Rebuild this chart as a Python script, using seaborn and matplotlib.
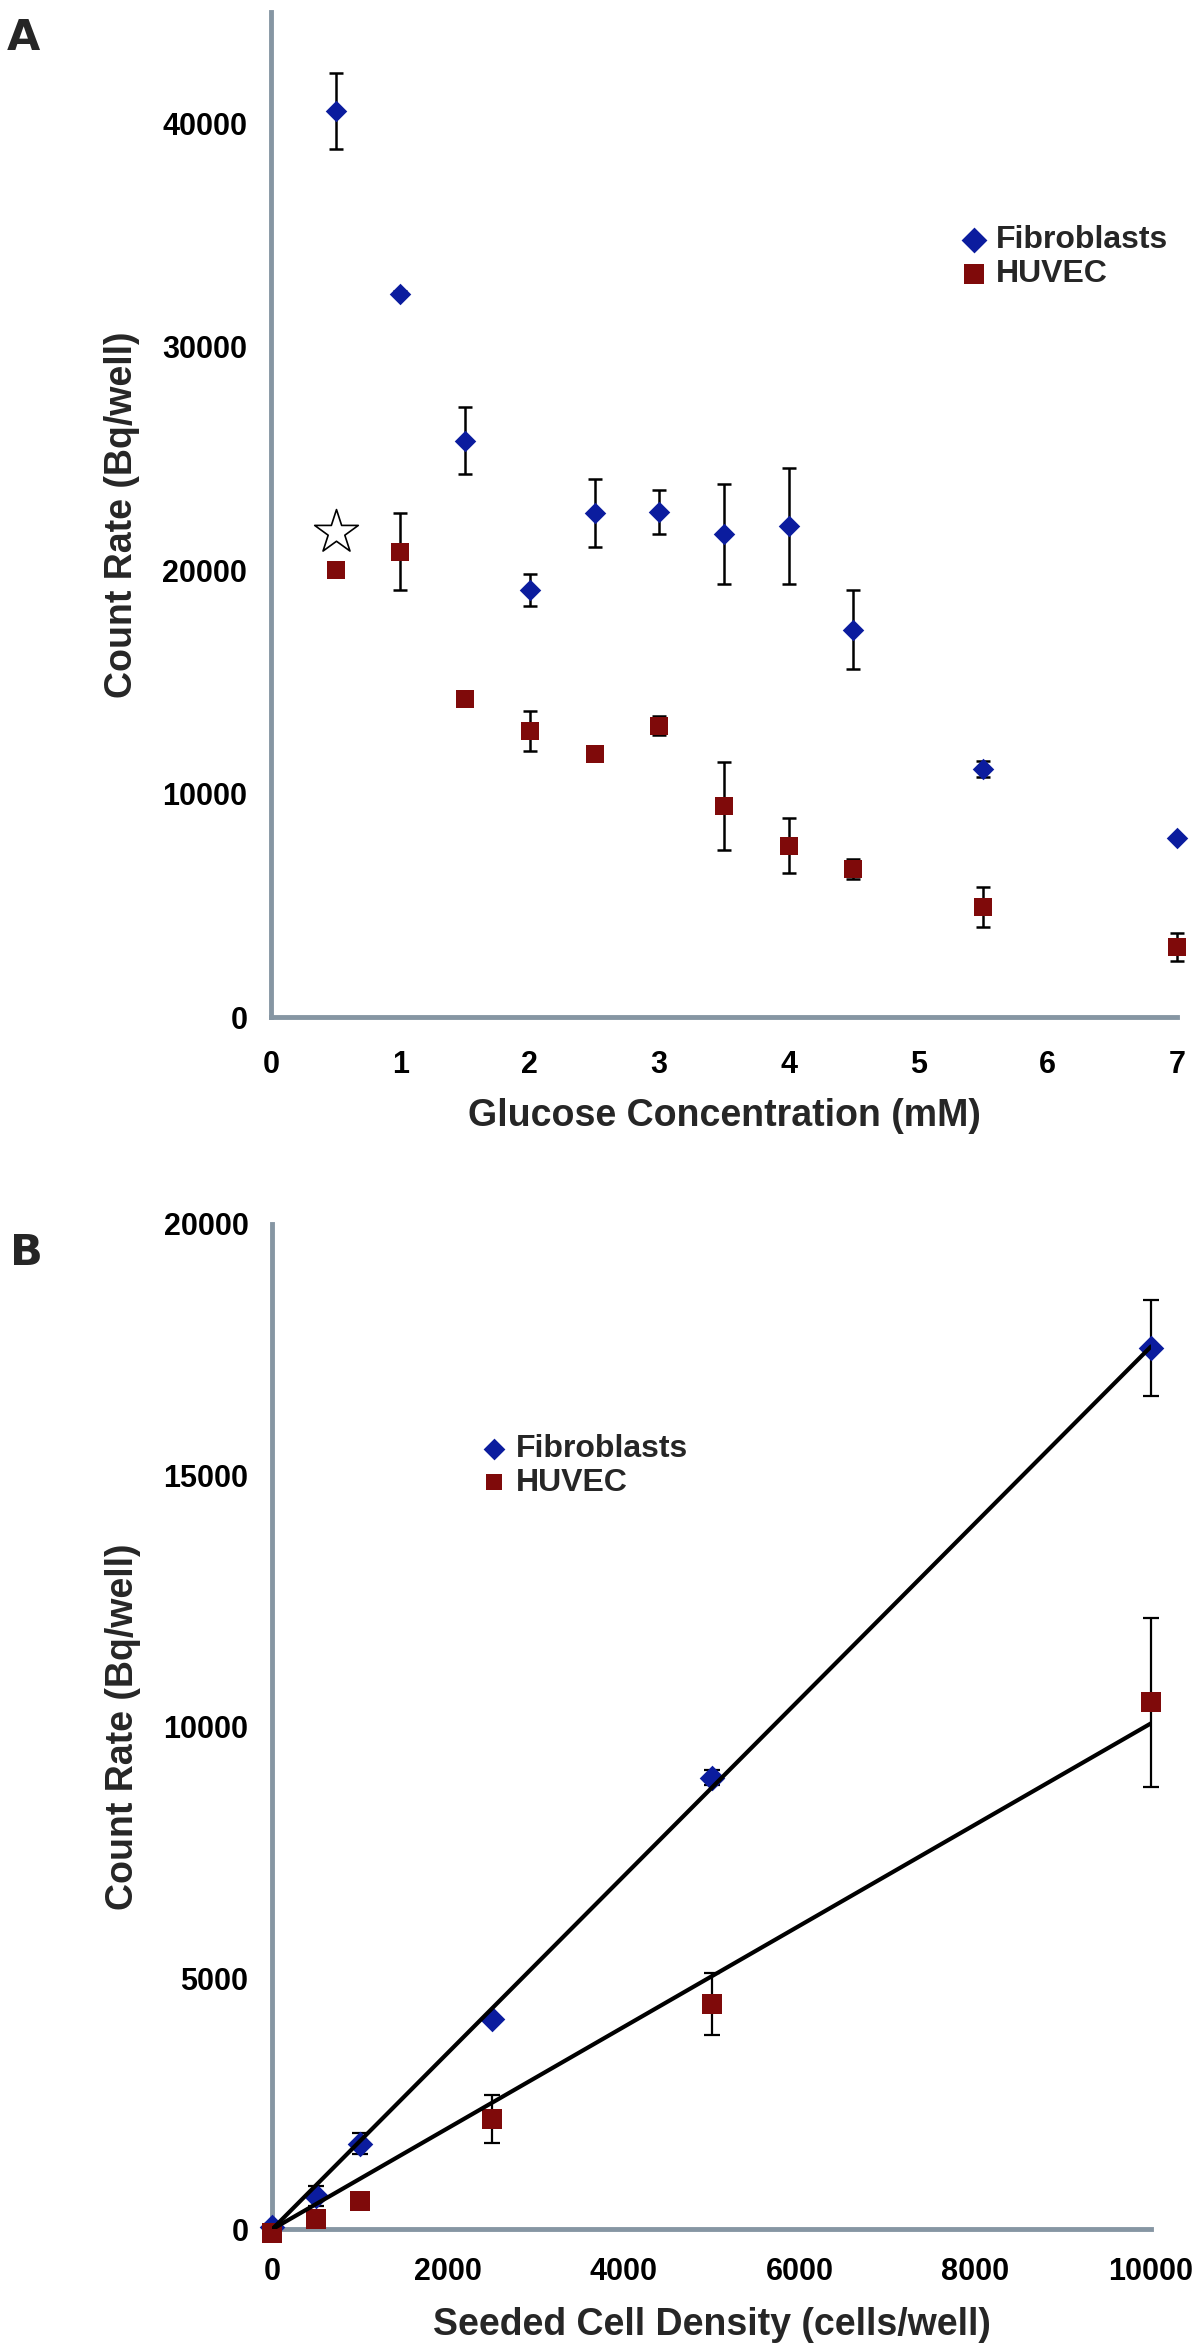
import numpy as np
import matplotlib
matplotlib.use('Agg')
import matplotlib.pyplot as plt
import seaborn as sns

# panel A: glucose series
glucose = [0.5, 1, 1.5, 2, 2.5, 3, 3.5, 4, 4.5, 5.5, 7]
fib_a = [40560, 32390, 25810, 19110, 22560, 22620, 21620, 21980, 17350, 11100, 8020]
fib_a_err = [1710, 100, 1510, 710, 1510, 980, 2240, 2580, 1780, 360, 100]
huv_a = [20000, 20840, 14220, 12820, 11790, 13040, 9450, 7660, 6630, 4940, 3120]
huv_a_err = [150, 1730, 150, 900, 250, 430, 1950, 1230, 430, 900, 630]
star_x = [0.5]
star_y = [21700]

a_xticks = [0, 1, 2, 3, 4, 5, 6, 7]
a_xlabels = ['0', '1', '2', '3', '4', '5', '6', '7']
a_yticks = [0, 5000, 10000, 15000, 20000, 25000, 30000, 35000, 40000, 45000]
a_ylabels = ['0', '', '10000', '', '20000', '', '30000', '', '40000', '']

# panel B: seeded density series
density = [0, 500, 1000, 2500, 5000, 10000]
fib_b = [50, 670, 1700, 4180, 8980, 17530]
fib_b_err = [60, 200, 210, 60, 150, 950]
huv_b = [-80, 210, 560, 2200, 4480, 10480]
huv_b_err = [40, 40, 40, 480, 610, 1680]

b_xticks = [0, 1000, 2000, 3000, 4000, 5000, 6000, 7000, 8000, 9000, 10000]
b_xlabels = ['0', '', '2000', '', '4000', '', '6000', '', '8000', '', '10000']
b_yticks = [0, 2500, 5000, 7500, 10000, 12500, 15000, 17500, 20000]
b_ylabels = ['0', '', '5000', '', '10000', '', '15000', '', '20000']

sns.set_style('white')
plt.rcParams['font.family'] = ['Liberation Sans', 'DejaVu Sans']
plt.rcParams['font.weight'] = 'bold'

BLUE = '#0b1c9e'
RED = '#7f0a0a'
AXC = '#8696a3'

fig = plt.figure(figsize=(12, 23.45), dpi=100)
axA = fig.add_axes([0.2258, 0.5663, 0.755, 0.4286])
axB = fig.add_axes([0.2267, 0.0493, 0.7325, 0.4288])


def style_axes(ax, xpad):
    for s in ['top', 'right']:
        ax.spines[s].set_visible(False)
    for s in ['left', 'bottom']:
        ax.spines[s].set_color(AXC)
        ax.spines[s].set_linewidth(3.5)
    ax.tick_params(axis='both', direction='out', length=7, width=3,
                   color=AXC, labelsize=22, labelcolor='black')
    ax.tick_params(axis='y', pad=10)
    ax.tick_params(axis='x', pad=xpad)
    for lab in ax.get_xticklabels() + ax.get_yticklabels():
        lab.set_fontweight('bold')


def errs(ax, x, y, e, cap, lw):
    eb = ax.errorbar(x, y, yerr=e, fmt='none', ecolor='black',
                     elinewidth=lw, capsize=cap, capthick=lw, zorder=2)
    for art in eb.lines[1] + eb.lines[2]:
        art.set_clip_on(False)


# ---------- A ----------
errs(axA, glucose, fib_a, fib_a_err, 5, 1.8)
errs(axA, glucose, huv_a, huv_a_err, 5, 1.8)
sns.scatterplot(x=glucose, y=fib_a, marker='D', s=120, color=BLUE, linewidth=0,
                ax=axA, zorder=3, clip_on=False, legend=False)
sns.scatterplot(x=glucose, y=huv_a, marker='s', s=150, color=RED, linewidth=0,
                ax=axA, zorder=3, clip_on=False, legend=False)
hA = list(axA.collections[-2:])
sns.scatterplot(x=star_x, y=star_y, marker='*', s=1090, facecolor='white',
                edgecolor='black', linewidth=1.2, ax=axA, zorder=3, legend=False)

axA.set_xlim(0, 7)
axA.set_ylim(0, 45000)
axA.set_xticks(a_xticks)
axA.set_xticklabels(a_xlabels)
axA.set_yticks(a_yticks)
axA.set_yticklabels(a_ylabels)
style_axes(axA, 17)
axA.set_xlabel('Glucose Concentration (mM)', fontsize=27, fontweight='bold')
axA.set_ylabel('Count Rate (Bq/well)', fontsize=27, fontweight='bold')
axA.xaxis.set_label_coords(0.5, -0.0806)
axA.yaxis.set_label_coords(-0.1446, 0.5)

axA.legend(hA, ['Fibroblasts', 'HUVEC'], loc='upper left',
           bbox_to_anchor=(0.7616, 0.7876), frameon=False, borderpad=0,
           borderaxespad=0, handlelength=0.8, handletextpad=0.3,
           labelspacing=0.12, markerscale=1.2,
           prop={'weight': 'bold', 'size': 23})

# ---------- B ----------
# linear fits through the origin
dens = np.array(density, dtype=float)
slope_f = np.sum(dens * np.array(fib_b)) / np.sum(dens ** 2)
slope_h = np.sum(dens * np.array(huv_b)) / np.sum(dens ** 2)

errs(axB, density, fib_b, fib_b_err, 6, 1.6)
errs(axB, density, huv_b, huv_b_err, 6, 1.6)
sns.scatterplot(x=density, y=fib_b, marker='D', s=170, color=BLUE, linewidth=0,
                ax=axB, zorder=3, clip_on=False, legend=False)
sns.scatterplot(x=density, y=huv_b, marker='s', s=190, color=RED, linewidth=0,
                ax=axB, zorder=3, clip_on=False, legend=False)
hB = list(axB.collections[-2:])
sns.lineplot(x=dens, y=slope_f * dens, color='black', linewidth=3, ax=axB, zorder=4)
sns.lineplot(x=dens, y=slope_h * dens, color='black', linewidth=3, ax=axB, zorder=4)

axB.set_xlim(0, 10000)
axB.set_ylim(0, 20000)
axB.set_xticks(b_xticks)
axB.set_xticklabels(b_xlabels)
axB.set_yticks(b_yticks)
axB.set_yticklabels(b_ylabels)
style_axes(axB, 13)
axB.set_xlabel('Seeded Cell Density (cells/well)', fontsize=27, fontweight='bold')
axB.set_ylabel('Count Rate (Bq/well)', fontsize=27, fontweight='bold')
axB.xaxis.set_label_coords(0.5, -0.077)
axB.yaxis.set_label_coords(-0.149, 0.5)

axB.legend(hB, ['Fibroblasts', 'HUVEC'], loc='upper left',
           bbox_to_anchor=(0.2378, 0.791), frameon=False, borderpad=0,
           borderaxespad=0, handlelength=0.8, handletextpad=0.3,
           labelspacing=0.12, markerscale=0.85,
           prop={'weight': 'bold', 'size': 23})

fig.text(0.006, 1 - 17 / 2345, 'A', fontsize=31, fontweight='bold',
         family='DejaVu Sans', va='top', ha='left')
fig.text(0.008, 1 - 1232 / 2345, 'B', fontsize=31, fontweight='bold',
         family='DejaVu Sans', va='top', ha='left')

fig.savefig('out.png', dpi=100, facecolor='white')
